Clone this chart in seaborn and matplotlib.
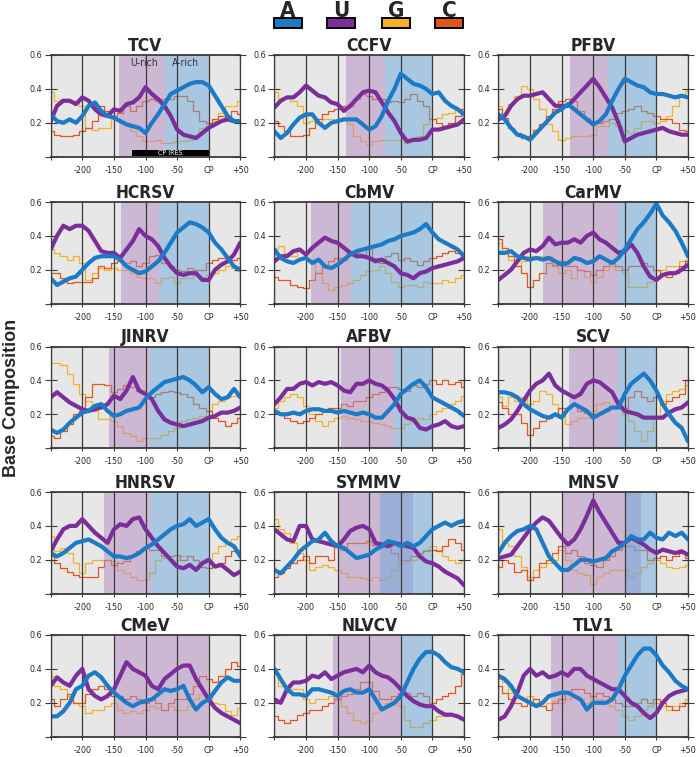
import matplotlib as mpl
mpl.use('Agg')
import matplotlib.pyplot as plt
import seaborn as sns
import pandas as pd
import numpy as np

sns.set_theme(style='white')
plt.rcParams['font.family'] = ['DejaVu Sans']
plt.rcParams['font.stretch'] = 'condensed'

# sampled positions (nt relative to CP start)
POS = list(range(-250, 51, 10))

TCV_A = [0.25,0.21,0.20,0.22,0.20,0.24,0.30,0.32,0.27,0.24,0.23,0.21,0.19,0.18,0.17,0.14,0.20,0.25,0.31,0.37,0.39,0.41,0.43,0.44,0.44,0.42,0.36,0.30,0.24,0.21,0.21]
TCV_U = [0.21,0.30,0.33,0.33,0.31,0.35,0.33,0.28,0.25,0.24,0.28,0.27,0.31,0.32,0.35,0.41,0.37,0.34,0.30,0.24,0.16,0.13,0.12,0.11,0.14,0.17,0.19,0.21,0.22,0.21,0.21]
TCV_G = [0.38,0.33,0.34,0.32,0.33,0.30,0.17,0.16,0.17,0.17,0.22,0.21,0.20,0.15,0.12,0.09,0.09,0.10,0.08,0.08,0.09,0.09,0.10,0.13,0.17,0.20,0.21,0.26,0.30,0.30,0.33]
TCV_C = [0.15,0.13,0.12,0.12,0.13,0.15,0.17,0.21,0.30,0.27,0.24,0.26,0.30,0.27,0.30,0.33,0.34,0.33,0.34,0.34,0.36,0.36,0.33,0.27,0.21,0.20,0.22,0.24,0.22,0.27,0.25]

CCFV_A = [0.15,0.11,0.14,0.19,0.23,0.25,0.25,0.20,0.17,0.20,0.21,0.22,0.22,0.22,0.19,0.16,0.18,0.24,0.33,0.40,0.49,0.46,0.43,0.42,0.40,0.37,0.38,0.33,0.30,0.28,0.25]
CCFV_U = [0.29,0.33,0.35,0.35,0.38,0.42,0.39,0.36,0.35,0.32,0.31,0.27,0.30,0.34,0.38,0.39,0.38,0.32,0.26,0.21,0.14,0.09,0.10,0.10,0.11,0.16,0.16,0.17,0.18,0.19,0.22]
CCFV_G = [0.38,0.34,0.35,0.33,0.30,0.20,0.21,0.20,0.22,0.22,0.21,0.22,0.19,0.12,0.09,0.07,0.09,0.10,0.10,0.10,0.10,0.08,0.09,0.12,0.19,0.22,0.23,0.25,0.26,0.28,0.26]
CCFV_C = [0.21,0.18,0.15,0.12,0.12,0.13,0.17,0.22,0.25,0.27,0.28,0.30,0.30,0.34,0.37,0.36,0.34,0.34,0.32,0.33,0.32,0.34,0.37,0.33,0.30,0.22,0.20,0.18,0.20,0.24,0.28]

PFBV_A = [0.25,0.22,0.17,0.13,0.12,0.10,0.14,0.18,0.22,0.26,0.28,0.31,0.28,0.25,0.22,0.19,0.21,0.25,0.33,0.40,0.46,0.44,0.42,0.41,0.38,0.37,0.37,0.36,0.35,0.36,0.35]
PFBV_U = [0.22,0.24,0.30,0.34,0.36,0.36,0.37,0.38,0.34,0.30,0.30,0.30,0.34,0.38,0.42,0.46,0.41,0.35,0.29,0.20,0.09,0.11,0.13,0.14,0.15,0.16,0.17,0.15,0.14,0.13,0.13]
PFBV_G = [0.30,0.25,0.31,0.36,0.42,0.40,0.34,0.28,0.19,0.15,0.10,0.11,0.12,0.12,0.12,0.13,0.18,0.18,0.20,0.18,0.16,0.14,0.17,0.21,0.21,0.20,0.21,0.24,0.30,0.36,0.39]
PFBV_C = [0.28,0.23,0.17,0.14,0.11,0.12,0.16,0.19,0.24,0.28,0.33,0.34,0.33,0.27,0.23,0.21,0.20,0.21,0.22,0.26,0.27,0.28,0.30,0.27,0.26,0.24,0.22,0.22,0.20,0.16,0.15]

HCRSV_A = [0.15,0.11,0.13,0.15,0.16,0.20,0.24,0.27,0.28,0.28,0.28,0.26,0.22,0.20,0.18,0.19,0.22,0.25,0.30,0.36,0.42,0.45,0.48,0.47,0.45,0.42,0.36,0.32,0.27,0.22,0.20]
HCRSV_U = [0.32,0.40,0.46,0.44,0.46,0.46,0.43,0.37,0.31,0.30,0.30,0.27,0.32,0.37,0.44,0.40,0.38,0.34,0.27,0.22,0.18,0.17,0.18,0.18,0.14,0.14,0.20,0.23,0.25,0.29,0.36]
HCRSV_G = [0.32,0.30,0.28,0.26,0.28,0.24,0.14,0.18,0.21,0.20,0.21,0.20,0.20,0.18,0.16,0.15,0.15,0.12,0.15,0.16,0.12,0.15,0.15,0.17,0.16,0.17,0.18,0.20,0.22,0.21,0.19]
HCRSV_C = [0.18,0.18,0.15,0.12,0.13,0.13,0.13,0.15,0.22,0.21,0.24,0.25,0.24,0.25,0.22,0.24,0.28,0.29,0.24,0.22,0.20,0.19,0.21,0.20,0.20,0.24,0.26,0.27,0.28,0.26,0.27]

CbMV_A = [0.32,0.27,0.25,0.24,0.26,0.27,0.24,0.26,0.22,0.21,0.23,0.26,0.29,0.31,0.32,0.33,0.34,0.35,0.37,0.38,0.40,0.41,0.42,0.44,0.47,0.42,0.38,0.36,0.34,0.32,0.28]
CbMV_U = [0.25,0.28,0.28,0.31,0.32,0.29,0.33,0.36,0.39,0.37,0.36,0.33,0.30,0.28,0.28,0.27,0.25,0.26,0.24,0.22,0.18,0.17,0.15,0.18,0.19,0.21,0.22,0.23,0.24,0.25,0.27]
CbMV_G = [0.32,0.34,0.30,0.28,0.31,0.30,0.26,0.18,0.12,0.08,0.10,0.11,0.12,0.14,0.17,0.19,0.20,0.22,0.18,0.13,0.10,0.11,0.11,0.10,0.13,0.12,0.12,0.14,0.13,0.15,0.17]
CbMV_C = [0.16,0.14,0.14,0.11,0.10,0.09,0.14,0.18,0.22,0.25,0.27,0.26,0.30,0.30,0.28,0.33,0.27,0.24,0.28,0.30,0.26,0.27,0.25,0.23,0.25,0.27,0.28,0.30,0.31,0.30,0.27]

CarMV_A = [0.30,0.30,0.31,0.28,0.27,0.26,0.27,0.26,0.27,0.25,0.23,0.24,0.27,0.26,0.24,0.25,0.28,0.26,0.24,0.27,0.32,0.38,0.44,0.48,0.53,0.59,0.52,0.48,0.43,0.36,0.28]
CarMV_U = [0.14,0.17,0.20,0.25,0.30,0.32,0.31,0.34,0.39,0.35,0.36,0.36,0.38,0.36,0.40,0.42,0.38,0.36,0.33,0.30,0.31,0.35,0.30,0.22,0.16,0.14,0.17,0.18,0.18,0.20,0.23]
CarMV_G = [0.36,0.30,0.26,0.22,0.25,0.28,0.27,0.28,0.28,0.22,0.18,0.20,0.15,0.20,0.16,0.13,0.16,0.20,0.22,0.20,0.18,0.10,0.10,0.10,0.13,0.15,0.20,0.22,0.22,0.25,0.26]
CarMV_C = [0.38,0.33,0.28,0.22,0.18,0.10,0.14,0.18,0.24,0.23,0.25,0.22,0.22,0.20,0.19,0.17,0.20,0.22,0.24,0.22,0.20,0.22,0.22,0.24,0.22,0.20,0.17,0.16,0.18,0.22,0.25]

JINRV_A = [0.11,0.09,0.11,0.15,0.18,0.21,0.22,0.25,0.26,0.22,0.19,0.20,0.22,0.23,0.24,0.29,0.33,0.36,0.39,0.40,0.41,0.42,0.40,0.37,0.33,0.36,0.32,0.29,0.30,0.35,0.30]
JINRV_U = [0.30,0.33,0.30,0.27,0.25,0.23,0.22,0.23,0.24,0.26,0.31,0.29,0.34,0.42,0.34,0.32,0.29,0.22,0.17,0.15,0.14,0.13,0.14,0.15,0.16,0.18,0.19,0.21,0.21,0.22,0.24]
JINRV_G = [0.50,0.50,0.49,0.44,0.38,0.32,0.28,0.22,0.17,0.17,0.16,0.13,0.09,0.07,0.04,0.06,0.06,0.06,0.08,0.10,0.12,0.16,0.17,0.18,0.19,0.22,0.26,0.28,0.30,0.31,0.33]
JINRV_C = [0.07,0.06,0.10,0.14,0.20,0.22,0.30,0.38,0.38,0.37,0.33,0.35,0.37,0.36,0.34,0.32,0.30,0.32,0.33,0.34,0.33,0.32,0.30,0.26,0.24,0.22,0.18,0.16,0.13,0.15,0.18]

AFBV_A = [0.22,0.20,0.20,0.21,0.20,0.22,0.23,0.23,0.22,0.22,0.21,0.22,0.21,0.20,0.21,0.20,0.18,0.18,0.22,0.26,0.32,0.35,0.38,0.40,0.36,0.30,0.28,0.26,0.24,0.22,0.19]
AFBV_U = [0.26,0.30,0.35,0.35,0.38,0.39,0.37,0.39,0.38,0.39,0.37,0.34,0.33,0.38,0.38,0.40,0.38,0.37,0.34,0.29,0.22,0.18,0.17,0.12,0.11,0.13,0.14,0.16,0.13,0.12,0.13]
AFBV_G = [0.24,0.28,0.30,0.32,0.30,0.25,0.20,0.16,0.13,0.16,0.18,0.19,0.18,0.17,0.16,0.16,0.15,0.14,0.13,0.12,0.12,0.14,0.16,0.18,0.17,0.20,0.22,0.24,0.26,0.28,0.31]
AFBV_C = [0.22,0.20,0.18,0.16,0.15,0.16,0.18,0.20,0.22,0.24,0.24,0.26,0.25,0.28,0.28,0.30,0.32,0.33,0.36,0.36,0.35,0.34,0.37,0.36,0.38,0.40,0.38,0.40,0.38,0.39,0.36]

SCV_A = [0.33,0.33,0.32,0.30,0.26,0.23,0.21,0.19,0.18,0.20,0.18,0.23,0.26,0.24,0.22,0.18,0.20,0.22,0.24,0.24,0.32,0.38,0.41,0.44,0.40,0.34,0.26,0.20,0.15,0.12,0.04]
SCV_U = [0.12,0.14,0.17,0.22,0.28,0.34,0.38,0.40,0.44,0.37,0.34,0.32,0.30,0.32,0.38,0.40,0.39,0.36,0.33,0.26,0.22,0.21,0.20,0.18,0.18,0.18,0.18,0.21,0.23,0.24,0.27]
SCV_G = [0.30,0.25,0.30,0.28,0.30,0.26,0.28,0.34,0.32,0.26,0.20,0.14,0.16,0.18,0.18,0.22,0.26,0.27,0.25,0.24,0.20,0.16,0.10,0.04,0.10,0.19,0.28,0.32,0.34,0.35,0.37]
SCV_C = [0.27,0.24,0.20,0.20,0.15,0.08,0.12,0.16,0.18,0.20,0.24,0.24,0.26,0.22,0.21,0.20,0.20,0.22,0.24,0.24,0.24,0.30,0.34,0.30,0.28,0.30,0.26,0.28,0.30,0.32,0.40]

HNRSV_A = [0.24,0.22,0.24,0.27,0.30,0.31,0.32,0.30,0.28,0.25,0.22,0.22,0.21,0.22,0.24,0.27,0.29,0.32,0.35,0.38,0.40,0.41,0.44,0.40,0.42,0.44,0.38,0.33,0.30,0.28,0.22]
HNRSV_U = [0.25,0.32,0.38,0.40,0.40,0.44,0.40,0.36,0.33,0.30,0.38,0.41,0.40,0.44,0.45,0.38,0.33,0.28,0.24,0.20,0.16,0.15,0.17,0.14,0.18,0.20,0.16,0.17,0.14,0.11,0.13]
HNRSV_G = [0.34,0.25,0.27,0.24,0.18,0.12,0.18,0.20,0.20,0.20,0.19,0.14,0.12,0.10,0.08,0.08,0.12,0.20,0.21,0.20,0.20,0.22,0.22,0.20,0.18,0.20,0.24,0.28,0.30,0.32,0.34]
HNRSV_C = [0.22,0.18,0.15,0.13,0.11,0.10,0.10,0.10,0.16,0.20,0.17,0.18,0.19,0.22,0.25,0.27,0.26,0.26,0.22,0.22,0.23,0.20,0.22,0.20,0.16,0.15,0.17,0.18,0.22,0.25,0.26]

SYMMV_A = [0.14,0.12,0.16,0.20,0.25,0.28,0.31,0.32,0.36,0.31,0.28,0.27,0.24,0.21,0.22,0.23,0.26,0.28,0.31,0.30,0.28,0.30,0.28,0.30,0.34,0.38,0.40,0.42,0.40,0.42,0.43]
SYMMV_U = [0.38,0.35,0.32,0.31,0.40,0.40,0.32,0.31,0.30,0.29,0.28,0.32,0.37,0.39,0.40,0.38,0.30,0.29,0.28,0.30,0.29,0.28,0.27,0.22,0.19,0.18,0.16,0.13,0.11,0.09,0.05]
SYMMV_G = [0.44,0.38,0.36,0.30,0.24,0.20,0.14,0.16,0.17,0.16,0.14,0.12,0.10,0.10,0.09,0.08,0.10,0.08,0.10,0.14,0.18,0.19,0.20,0.22,0.26,0.28,0.26,0.22,0.20,0.18,0.20]
SYMMV_C = [0.10,0.12,0.15,0.18,0.20,0.22,0.18,0.22,0.22,0.20,0.28,0.26,0.30,0.30,0.30,0.31,0.29,0.30,0.28,0.24,0.20,0.20,0.22,0.24,0.25,0.26,0.25,0.28,0.32,0.30,0.26]

MNSV_A = [0.24,0.30,0.34,0.37,0.38,0.40,0.38,0.30,0.22,0.18,0.14,0.14,0.17,0.20,0.20,0.19,0.20,0.21,0.25,0.27,0.30,0.34,0.32,0.32,0.36,0.33,0.32,0.36,0.34,0.36,0.32]
MNSV_U = [0.21,0.22,0.23,0.28,0.33,0.38,0.42,0.45,0.43,0.38,0.33,0.29,0.32,0.38,0.46,0.55,0.48,0.42,0.36,0.30,0.30,0.33,0.31,0.29,0.26,0.24,0.26,0.25,0.24,0.25,0.23]
MNSV_G = [0.38,0.30,0.28,0.22,0.16,0.10,0.14,0.16,0.18,0.20,0.26,0.20,0.14,0.12,0.11,0.06,0.10,0.12,0.14,0.14,0.14,0.10,0.12,0.16,0.18,0.20,0.18,0.16,0.15,0.16,0.17]
MNSV_C = [0.16,0.20,0.18,0.13,0.14,0.08,0.10,0.18,0.20,0.24,0.28,0.24,0.26,0.22,0.18,0.17,0.16,0.20,0.22,0.26,0.28,0.28,0.26,0.26,0.20,0.21,0.22,0.20,0.22,0.24,0.21]

CMeV_A = [0.12,0.12,0.15,0.20,0.28,0.30,0.36,0.38,0.35,0.30,0.26,0.23,0.20,0.18,0.20,0.21,0.22,0.25,0.28,0.27,0.28,0.30,0.22,0.16,0.20,0.22,0.27,0.32,0.35,0.33,0.33]
CMeV_U = [0.30,0.35,0.32,0.30,0.36,0.40,0.28,0.24,0.22,0.24,0.28,0.36,0.44,0.40,0.38,0.36,0.30,0.28,0.34,0.37,0.40,0.42,0.42,0.34,0.28,0.22,0.17,0.14,0.12,0.10,0.08]
CMeV_G = [0.36,0.30,0.28,0.24,0.20,0.18,0.14,0.16,0.16,0.18,0.20,0.16,0.14,0.15,0.14,0.16,0.18,0.17,0.16,0.18,0.16,0.16,0.18,0.22,0.25,0.24,0.20,0.19,0.15,0.13,0.17]
CMeV_C = [0.22,0.18,0.22,0.25,0.20,0.20,0.25,0.28,0.30,0.28,0.24,0.24,0.22,0.24,0.22,0.20,0.22,0.20,0.16,0.20,0.22,0.22,0.25,0.30,0.36,0.34,0.32,0.36,0.40,0.44,0.42]

NLVCV_A = [0.40,0.34,0.28,0.25,0.25,0.24,0.28,0.28,0.27,0.26,0.24,0.27,0.28,0.26,0.26,0.28,0.22,0.16,0.18,0.20,0.24,0.32,0.40,0.46,0.50,0.50,0.48,0.44,0.41,0.40,0.38]
NLVCV_U = [0.22,0.20,0.28,0.32,0.32,0.33,0.36,0.35,0.38,0.34,0.36,0.38,0.39,0.40,0.38,0.42,0.38,0.36,0.35,0.32,0.28,0.24,0.21,0.19,0.18,0.18,0.15,0.13,0.13,0.12,0.10]
NLVCV_G = [0.38,0.30,0.30,0.28,0.28,0.22,0.20,0.22,0.22,0.24,0.22,0.18,0.14,0.10,0.08,0.09,0.14,0.18,0.20,0.22,0.18,0.10,0.06,0.06,0.08,0.10,0.12,0.12,0.13,0.12,0.11]
NLVCV_C = [0.12,0.10,0.08,0.10,0.13,0.14,0.16,0.16,0.18,0.20,0.22,0.24,0.25,0.28,0.32,0.32,0.27,0.22,0.22,0.24,0.26,0.26,0.24,0.26,0.24,0.20,0.22,0.24,0.26,0.30,0.37]

TLV1_A = [0.36,0.34,0.30,0.24,0.22,0.20,0.18,0.20,0.24,0.25,0.26,0.26,0.24,0.22,0.16,0.20,0.20,0.20,0.22,0.28,0.36,0.42,0.48,0.52,0.52,0.48,0.42,0.38,0.33,0.30,0.28]
TLV1_U = [0.10,0.12,0.18,0.26,0.36,0.40,0.36,0.38,0.35,0.36,0.38,0.36,0.40,0.40,0.36,0.34,0.32,0.30,0.28,0.28,0.24,0.20,0.18,0.14,0.11,0.14,0.20,0.24,0.26,0.27,0.28]
TLV1_G = [0.34,0.32,0.26,0.24,0.22,0.24,0.20,0.18,0.20,0.21,0.20,0.22,0.24,0.22,0.20,0.24,0.22,0.20,0.18,0.16,0.12,0.10,0.12,0.16,0.18,0.20,0.18,0.16,0.18,0.20,0.22]
TLV1_C = [0.30,0.26,0.22,0.20,0.18,0.20,0.22,0.18,0.16,0.20,0.22,0.26,0.28,0.28,0.26,0.24,0.26,0.24,0.22,0.20,0.18,0.18,0.20,0.22,0.20,0.22,0.20,0.18,0.16,0.18,0.20]

VIRUSES = ['TCV', 'CCFV', 'PFBV', 'HCRSV', 'CbMV', 'CarMV', 'JINRV', 'AFBV',
           'SCV', 'HNRSV', 'SYMMV', 'MNSV', 'CMeV', 'NLVCV', 'TLV1']

# shaded U-rich / A-rich windows (nt)
U_RICH = {'TCV': (-142, -69), 'CCFV': (-136, -75), 'PFBV': (-137, -76),
          'HCRSV': (-139, -78), 'CbMV': (-192, -129), 'CarMV': (-180, -60),
          'JINRV': (-158, -93), 'AFBV': (-145, -60), 'SCV': (-138, -61),
          'HNRSV': (-166, -91), 'SYMMV': (-147, -31), 'MNSV': (-150, -25),
          'CMeV': (-150, 0), 'NLVCV': (-158, -50), 'TLV1': (-167, -60)}
A_RICH = {'TCV': (-69, 0), 'CCFV': (-75, 0), 'PFBV': (-76, 0),
          'HCRSV': (-78, 0), 'CbMV': (-129, 0), 'CarMV': (-60, 0),
          'JINRV': (-93, 0), 'AFBV': (-60, 0), 'SCV': (-61, 0),
          'HNRSV': (-91, 0), 'SYMMV': (-83, 0), 'MNSV': (-48, 0),
          'NLVCV': (-50, 0), 'TLV1': (-60, 0)}
IRES = (-122, 0)

BASES = ['A', 'U', 'G', 'C']
COLORS = {'A': '#1c7bc6', 'U': '#7b2e9b', 'G': '#f2b32b', 'C': '#e0561e'}
XTICKS = [-250, -200, -150, -100, -50, 0, 50]
XLABELS = ['', '-200', '-150', '-100', '-50', 'CP', '+50']

W, H = 696, 757
COL_LEFT = [50.7, 274.4, 498.4]
ROW_TOP = [55, 202, 346.5, 492, 635]
AX_W, AX_H = 189.6, 101.7
GRIDC = '#3a3a3a'

fig = plt.figure(figsize=(W / 100, H / 100), dpi=100)
g = globals()

for i, name in enumerate(VIRUSES):
    r, c = divmod(i, 3)
    ax = fig.add_axes([COL_LEFT[c] / W, 1 - (ROW_TOP[r] + AX_H) / H, AX_W / W, AX_H / H])
    ax.set_facecolor('#e7e7e7')
    df = pd.DataFrame({'pos': POS})
    for b in BASES:
        df[b] = g[name + '_' + b]

    for b in ['G', 'C']:
        sns.lineplot(data=df, x='pos', y=b, ax=ax, color=COLORS[b], lw=0.9,
                     drawstyle='steps-mid', zorder=1.2, legend=False)
    ax.axvspan(*U_RICH[name], color='#b48ac2', alpha=0.5, lw=0, zorder=1.3)
    if name in A_RICH:
        ax.axvspan(*A_RICH[name], color='#6ca8da', alpha=0.5, lw=0, zorder=1.3)
    for b in ['U', 'A']:
        sns.lineplot(data=df, x='pos', y=b, ax=ax, color=COLORS[b], lw=3.0,
                     zorder=2.2, legend=False, solid_joinstyle='round')

    ax.set_xlim(-250, 50)
    ax.set_ylim(0, 0.6)
    ax.set_xlabel('')
    ax.set_ylabel('')
    ax.set_xticks(XTICKS)
    ax.set_xticklabels(XLABELS)
    ax.set_yticks([0, 0.2, 0.4, 0.6])
    ax.set_yticklabels(['', '0.2', '0.4', '0.6'])
    ax.tick_params(axis='x', direction='inout', length=5, width=0.8, color=GRIDC,
                   labelsize=6.5, pad=4, bottom=True)
    ax.tick_params(axis='y', direction='inout', length=8, width=0.8, color=GRIDC,
                   labelsize=6.5, pad=2, left=True, right=True)
    ax.set_axisbelow('line')
    ax.grid(axis='x', color=GRIDC, lw=0.9)
    ax.grid(axis='y', visible=False)
    for s in ax.spines.values():
        s.set_color(GRIDC)
        s.set_linewidth(0.9)
    ax.spines['top'].set_linewidth(1.3)
    ax.spines['bottom'].set_linewidth(1.3)
    ax.set_title(name, fontsize=12.5, fontweight='bold', pad=3)

    if name == 'TCV':
        ax.text(-103, 0.55, 'U-rich', ha='center', va='center', fontsize=7.5, color='#333333')
        ax.text(-37, 0.55, 'A-rich', ha='center', va='center', fontsize=7.5, color='#333333')
        ax.fill_between(IRES, 0.005, 0.038, color='black', lw=0, zorder=3)
        ax.text(sum(IRES) / 2, 0.021, 'CP IRES', ha='center', va='center',
                fontsize=5, color='white', zorder=4)

# legend: letters above coloured boxes
LEG_X = [288, 341, 396, 449]
for b, x in zip(BASES, LEG_X):
    fig.text(x / W, 1 - 11 / H, b, ha='center', va='center', fontsize=16, fontweight='bold')
    fig.add_artist(mpl.patches.Rectangle(((x - 14) / W, 1 - 28 / H), 28 / W, 10 / H,
                                         transform=fig.transFigure, facecolor=COLORS[b],
                                         edgecolor='black', lw=1.4))

fig.text(12 / W, 1 - 398 / H, 'Base Composition', rotation=90, ha='center', va='center',
         fontsize=13, fontweight='bold', fontstretch='normal',
         family=['Liberation Sans', 'DejaVu Sans'])

fig.savefig('out.png', dpi=100)
